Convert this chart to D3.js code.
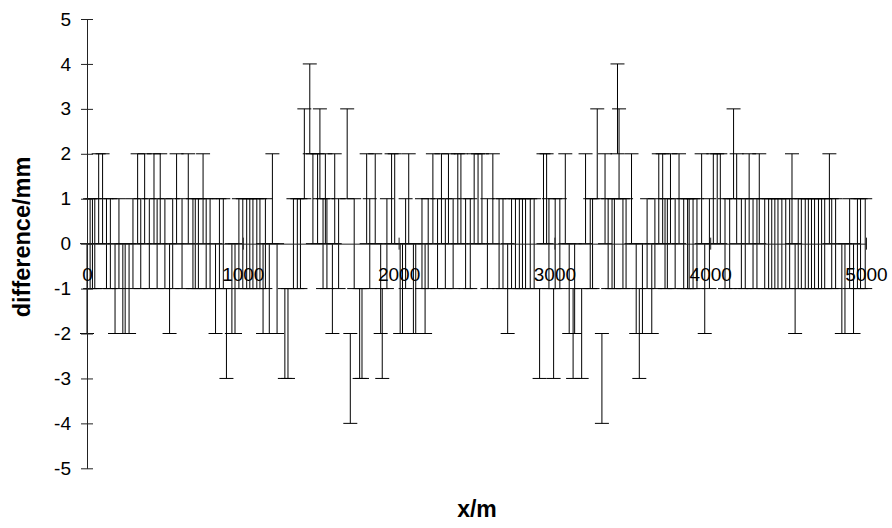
<!DOCTYPE html>
<html>
<head>
<meta charset="utf-8">
<script src="https://cdn.jsdelivr.net/npm/d3@7/dist/d3.min.js"></script>
<style>
  body { margin: 0; background: #fff; }
  svg { display: block; }
  text { font-family: Arial, "Liberation Sans", Helvetica, sans-serif; fill: #000; }
</style>
</head>
<body>
<svg id="chart" width="892" height="528"></svg>
<script>
// Survey stations along the line (m)
const stations = [
  0, 20, 35, 50, 75, 100, 125, 150, 180, 205, 230, 245, 270, 295, 325, 345, 370, 400, 430, 450,
  470, 500, 530, 550, 575, 610, 650, 680, 695, 715, 745, 765, 790, 825, 850, 875, 895, 930, 950, 975,
  1000, 1025, 1045, 1065, 1090, 1110, 1130, 1145, 1170, 1190, 1220, 1270, 1290, 1325, 1350, 1370, 1395, 1430, 1450, 1480,
  1495, 1515, 1530, 1540, 1575, 1590, 1615, 1670, 1690, 1715, 1750, 1765, 1795, 1815, 1850, 1885, 1895, 1925, 1955, 1975,
  2010, 2025, 2045, 2065, 2095, 2110, 2150, 2170, 2190, 2220, 2250, 2275, 2300, 2320, 2350, 2380, 2400, 2430, 2460, 2485,
  2510, 2535, 2570, 2605, 2645, 2670, 2700, 2725, 2750, 2775, 2795, 2815, 2845, 2870, 2905, 2930, 2950, 2965, 2995, 3005,
  3035, 3070, 3095, 3120, 3130, 3175, 3200, 3230, 3245, 3275, 3305, 3325, 3345, 3370, 3385, 3405, 3415, 3440, 3460, 3495,
  3525, 3545, 3565, 3595, 3625, 3645, 3670, 3695, 3710, 3725, 3745, 3775, 3800, 3830, 3855, 3865, 3890, 3915, 3945, 3965,
  3995, 4020, 4045, 4065, 4095, 4125, 4150, 4170, 4200, 4225, 4250, 4275, 4300, 4315, 4350, 4375, 4395, 4415, 4435, 4460,
  4485, 4510, 4525, 4545, 4565, 4585, 4610, 4630, 4650, 4670, 4695, 4715, 4735, 4765, 4780, 4805, 4845, 4865, 4895, 4920,
  4945, 4965, 4995
];

// Measured difference at each station (mm)
const differences = [
  -1, 0, 0, 0, 1, 1, 0, 0, -1, 0, -1, -1, -1, 0, 1, 0, 1, 0, 1, 0,
  1, 0, -1, 0, 1, 0, 1, 0, 0, 0, 1, 0, 0, -1, 0, 0, -2, -1, -1, 0,
  0, 0, 0, 0, 0, 0, -1, 0, -1, 1, -1, -2, -2, 0, 0, 0, 2, 3, 1, 1,
  2, 0, 1, 0, -1, 1, 0, 2, -3, 0, -2, -2, 1, 0, 1, -1, -2, 0, 1, 1,
  -1, -1, 0, 1, -1, -1, 0, -1, 0, 1, 0, 1, 0, 1, 0, 1, 1, 0, 0, 1,
  1, 1, 0, 1, 0, 0, -1, 0, 0, 0, 0, 0, 0, 0, -2, 1, 1, 0, -2, 0,
  0, 1, -1, -2, -1, -2, 1, 0, 0, 2, -3, 1, 0, 0, 0, 3, 2, 0, 0, 1,
  -1, -2, -1, 0, -1, 0, 1, 1, 0, 0, 1, 0, 1, 0, 0, 0, 0, 0, 1, -1,
  0, 1, 1, 1, 0, 0, 2, 1, 0, 0, 1, 0, 0, 1, 0, 0, 0, 0, 0, 0,
  0, 0, 1, -1, 0, 0, 0, 0, 0, 0, 0, 0, 0, 1, 0, 0, -1, -1, 0, -1,
  0, 0, 0
];

// Reading tolerance drawn as the error range (± mm)
const tolerance = 1;

const xTickValues = [0, 1000, 2000, 3000, 4000, 5000];
const yTickValues = [-5, -4, -3, -2, -1, 0, 1, 2, 3, 4, 5];
const xTitle = "x/m";
const yTitle = "difference/mm";

const svg = d3.select("#chart");

const x = d3.scaleLinear().domain([0, 5000]).range([87, 866]);
const y = d3.scaleLinear().domain([-5, 5]).range([468.3, 19]);

const capHalf = 7;
const points = stations.map((s, i) => ({ s, d: differences[i] }));

// Plain hyphen for negative tick labels
const plainNumber = d => String(d);

// Error ranges: vertical stem plus a cap at each end
const bars = svg.append("g").attr("class", "bars")
  .attr("stroke", "#000").attr("stroke-width", 1).attr("fill", "none");

bars.selectAll("line.stem").data(points).join("line")
  .attr("class", "stem")
  .attr("x1", p => x(p.s)).attr("x2", p => x(p.s))
  .attr("y1", p => y(p.d + tolerance)).attr("y2", p => y(p.d - tolerance));

bars.selectAll("line.cap-hi").data(points).join("line")
  .attr("class", "cap-hi")
  .attr("x1", p => x(p.s) - capHalf).attr("x2", p => x(p.s) + capHalf)
  .attr("y1", p => y(p.d + tolerance)).attr("y2", p => y(p.d + tolerance));

bars.selectAll("line.cap-lo").data(points).join("line")
  .attr("class", "cap-lo")
  .attr("x1", p => x(p.s) - capHalf).attr("x2", p => x(p.s) + capHalf)
  .attr("y1", p => y(p.d - tolerance)).attr("y2", p => y(p.d - tolerance));

// Y axis with crossing tick marks
const yAxis = svg.append("g")
  .attr("transform", `translate(${x(0)},0)`)
  .call(d3.axisLeft(y).tickValues(yTickValues).tickFormat(plainNumber)
    .tickSizeInner(6).tickSizeOuter(0).tickPadding(10));
yAxis.select(".domain").attr("stroke", "#222");
yAxis.selectAll(".tick line").attr("x1", -6).attr("x2", 6).attr("stroke", "#222");
yAxis.selectAll(".tick text")
  .attr("x", -16)
  .style("font-size", "19px")
  .style("font-family", "Arial, 'Liberation Sans', sans-serif");

// X axis along zero difference
const xAxis = svg.append("g")
  .attr("transform", `translate(0,${y(0)})`)
  .call(d3.axisBottom(x).tickValues(xTickValues).tickFormat(plainNumber)
    .tickSizeInner(6).tickSizeOuter(0));
xAxis.select(".domain").attr("stroke", "#222");
xAxis.selectAll(".tick line").attr("y1", -6).attr("y2", 6).attr("stroke", "#222");
xAxis.selectAll(".tick text")
  .attr("y", 24)
  .style("font-size", "19px")
  .style("font-family", "Arial, 'Liberation Sans', sans-serif");

// Axis titles
svg.append("text")
  .attr("x", 477).attr("y", 517)
  .attr("text-anchor", "middle")
  .style("font-size", "23px").style("font-weight", "bold")
  .text(xTitle);

svg.append("text")
  .attr("transform", `translate(30,237) rotate(-90)`)
  .attr("text-anchor", "middle")
  .style("font-size", "23.5px").style("font-weight", "bold")
  .text(yTitle);
</script>
</body>
</html>
